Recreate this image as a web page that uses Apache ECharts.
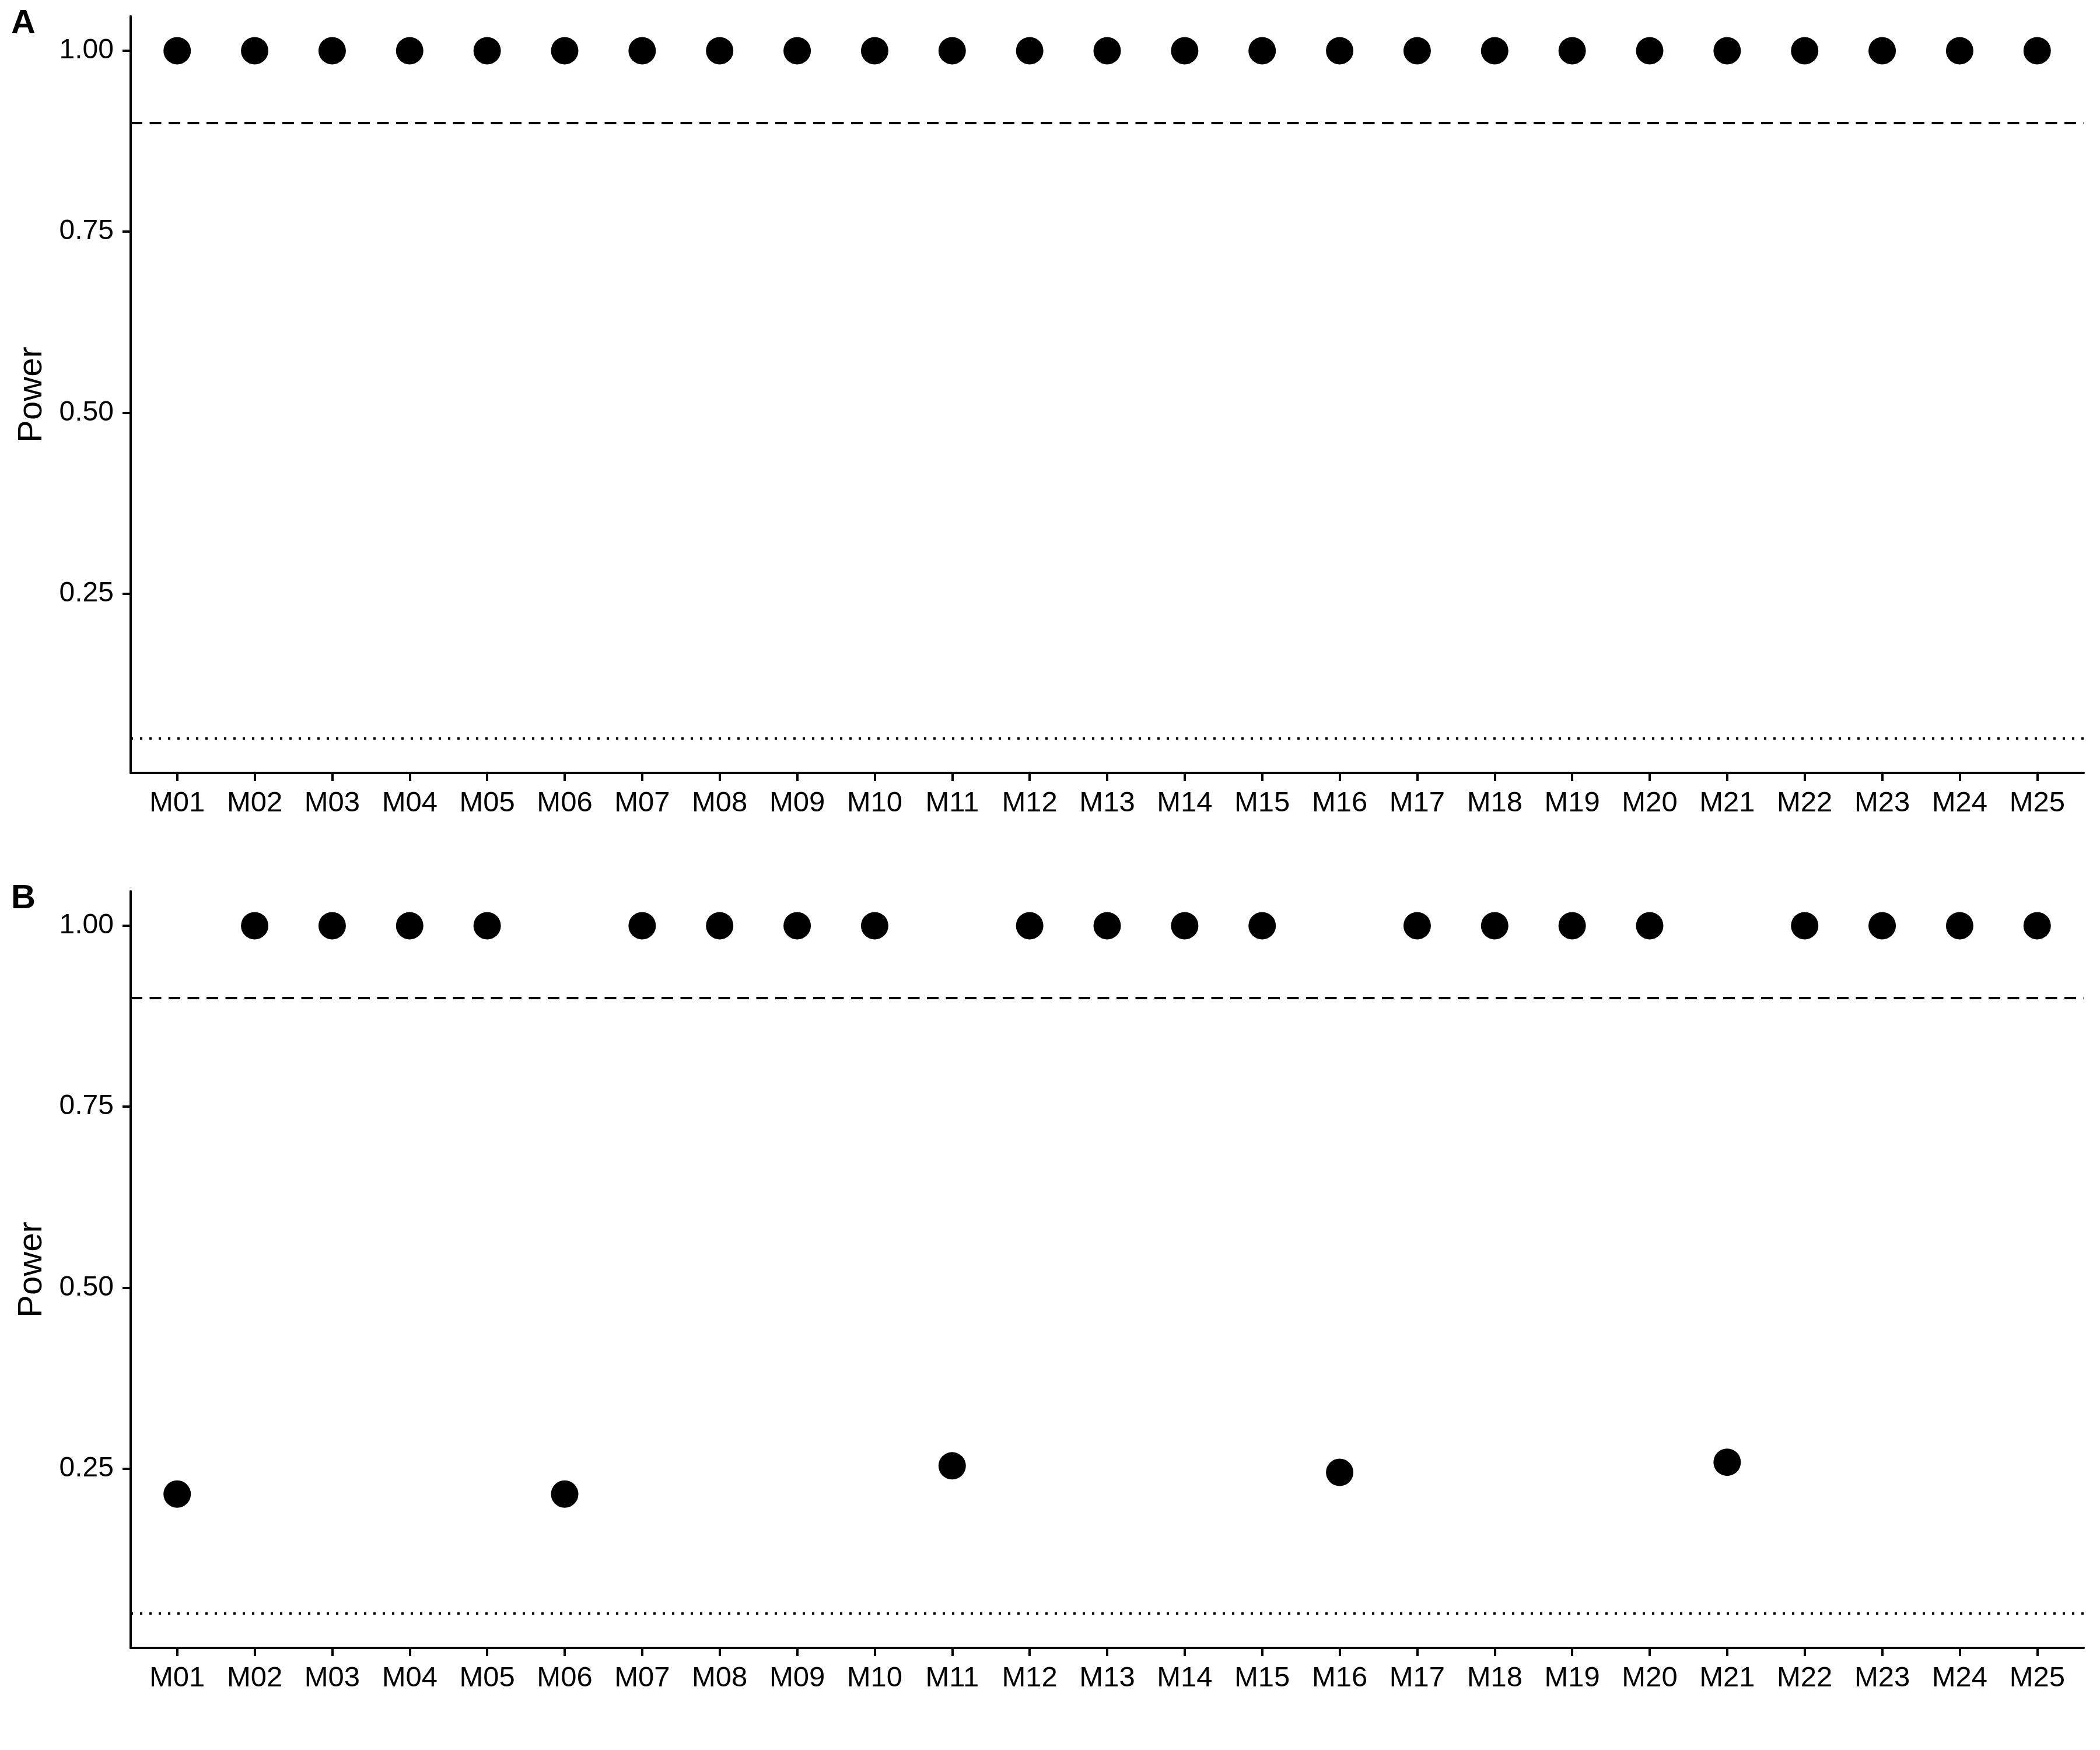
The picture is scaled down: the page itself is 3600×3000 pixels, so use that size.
<!DOCTYPE html>
<html>
<head>
<meta charset="utf-8">
<script src="https://cdn.jsdelivr.net/npm/echarts@6/dist/echarts.min.js"></script>
<style>
html,body{margin:0;padding:0;background:#fff;}
#chart{width:3600px;height:3000px;}
</style>
</head>
<body>
<div id="chart"></div>
<script>
const categories = ['M01','M02','M03','M04','M05','M06','M07','M08','M09','M10','M11','M12','M13','M14','M15','M16','M17','M18','M19','M20','M21','M22','M23','M24','M25'];
const powerA = [1,1,1,1,1,1,1,1,1,1,1,1,1,1,1,1,1,1,1,1,1,1,1,1,1];
const powerB = [0.215,1,1,1,1,0.215,1,1,1,1,0.254,1,1,1,1,0.245,1,1,1,1,0.259,1,1,1,1];
const yTicks = [0.25,0.50,0.75,1.00];
const targetPower = 0.9;
const alphaLevel = 0.05;
const panelLabels = ['A','B'];

const FONT = '"Liberation Sans", Arial, sans-serif';
const chart = echarts.init(document.getElementById('chart'), null, {renderer:'canvas'});

const gridTops = [28, 1528];
const xIdx = categories.map((c,i)=>i+1);

function mkX(gi){
  return {
    type:'value', gridIndex:gi, min:0.4, max:25.6,
    axisLine:{show:true, lineStyle:{color:'#000', width:4}},
    axisTick:{show:true, customValues:xIdx, length:14, lineStyle:{color:'#000', width:4}},
    axisLabel:{show:true, customValues:xIdx, margin:28, color:'#000', fontSize:49, fontFamily:FONT,
      formatter:v=>categories[Math.round(v)-1] || ''},
    splitLine:{show:false}
  };
}
function mkY(gi){
  return {
    type:'value', gridIndex:gi, min:0.0025, max:1.0475,
    name:'Power', nameLocation:'middle', nameRotate:90, nameGap:140,
    nameTextStyle:{color:'#000', fontSize:58, fontFamily:FONT},
    axisLine:{show:true, lineStyle:{color:'#000', width:4}},
    axisTick:{show:true, customValues:yTicks, length:14, lineStyle:{color:'#000', width:4}},
    axisLabel:{show:true, customValues:yTicks, margin:29, color:'#000', fontSize:48, fontFamily:FONT,
      formatter:v=>v.toFixed(2)},
    splitLine:{show:false}
  };
}
function mkSeries(gi, vals){
  return {
    type:'scatter', xAxisIndex:gi, yAxisIndex:gi,
    symbol:'circle', symbolSize:47,
    itemStyle:{color:'#000', opacity:1},
    data: vals.map((v,i)=>[i+1, v]),
    markLine:{
      silent:true, symbol:['none','none'], label:{show:false},
      data:[
        {yAxis:targetPower, lineStyle:{type:[20,12.5], color:'#000', width:4, opacity:1}},
        {yAxis:alphaLevel, lineStyle:{type:[4,12], color:'#000', width:4, opacity:1}}
      ]
    }
  };
}

chart.setOption({
  backgroundColor:'#fff',
  animation:false,
  grid: gridTops.map(t=>({left:224, right:28, top:t, height:1297, containLabel:false})),
  xAxis:[mkX(0), mkX(1)],
  yAxis:[mkY(0), mkY(1)],
  series:[mkSeries(0, powerA), mkSeries(1, powerB)],
  graphic: panelLabels.map((l,i)=>({
    type:'text', left:19, top:gridTops[i]-16,
    style:{text:l, font:'bold 58px '+FONT, fill:'#000'}
  }))
});
</script>
</body>
</html>
